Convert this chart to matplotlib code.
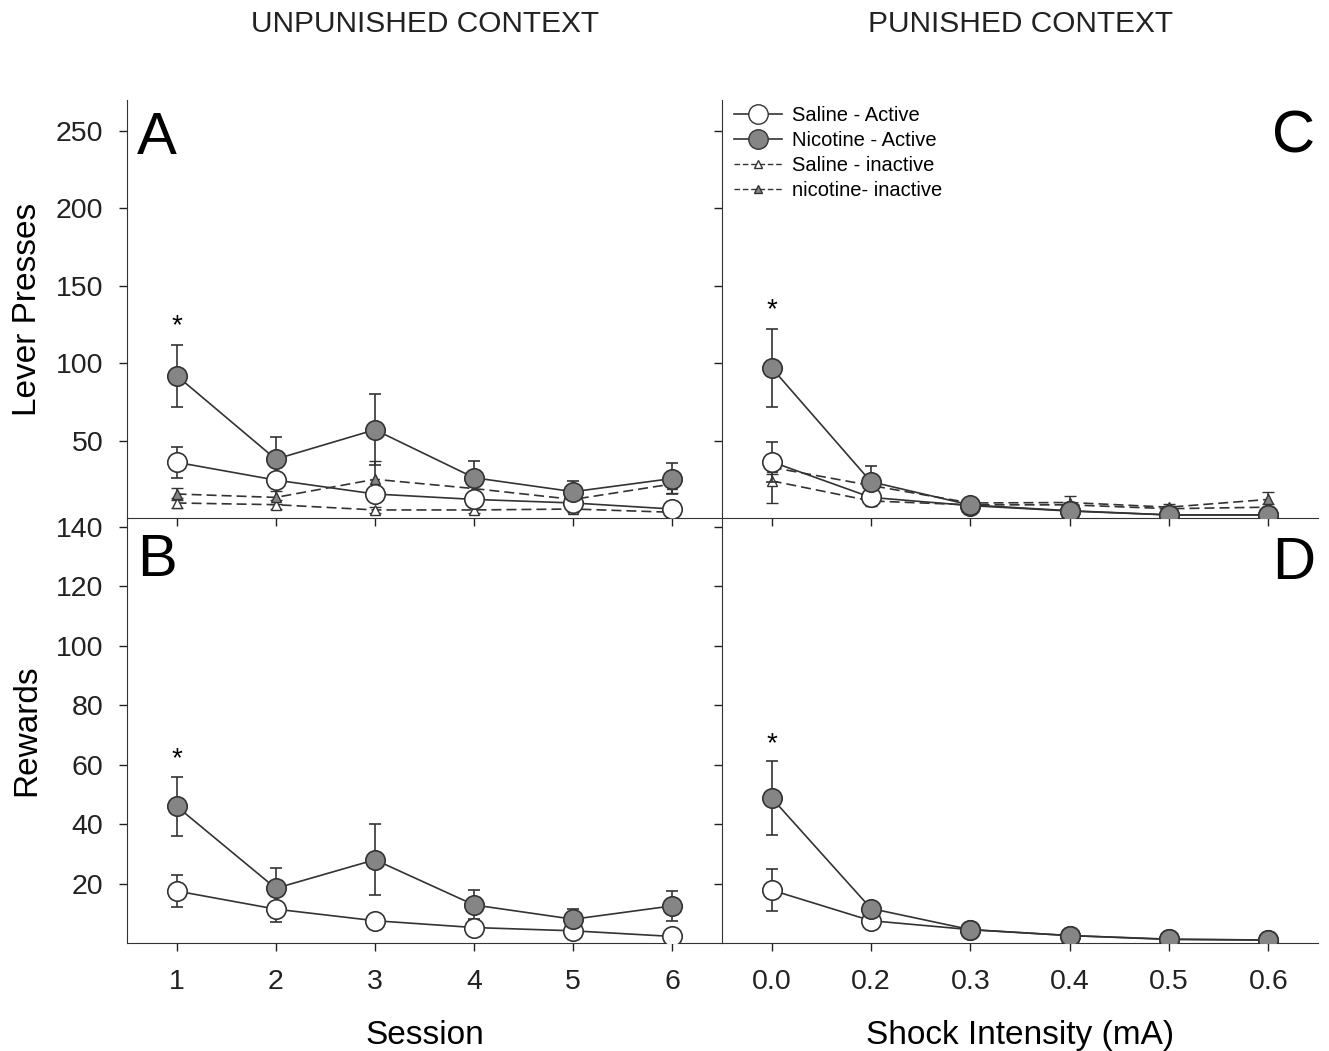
import matplotlib
matplotlib.use("Agg")
import matplotlib.pyplot as plt
import numpy as np

plt.rcParams['font.family'] = ['Liberation Sans', 'DejaVu Sans']

sessions = [1, 2, 3, 4, 5, 6]
shock_labels = ["0.0", "0.2", "0.3", "0.4", "0.5", "0.6"]

# Lever presses, unpunished context (A)
a_nic_act = [92, 38, 57, 26, 17, 25.5]
a_nic_act_err = [20, 14, 23, 11, 7, 10]
a_sal_act = [36, 24.5, 15.5, 12, 9.7, 5.8]
a_sal_act_err = [10, 4, 4, 4, 3, 2]
a_nic_inact = [15.5, 13.3, 25, 19, 12, 22]
a_nic_inact_err = [4, 4, 12, 4, 4, 6]
a_sal_inact = [9.7, 8.6, 5.2, 5.2, 5.8, 3.7]
a_sal_inact_err = [3, 3, 2, 2, 2, 2]

# Lever presses, punished context (C)
c_nic_act = [97, 23.4, 8.4, 4.7, 2, 2]
c_nic_act_err = [25, 10, 3, 3, 2, 2]
c_sal_act = [36.3, 13.3, 8, 4.5, 2, 2]
c_sal_act_err = [13, 5, 2, 2, 1, 1]
c_nic_inact = [32.7, 21, 9.7, 10, 7, 12]
c_nic_inact_err = [4, 4, 3, 4, 2, 5]
c_sal_inact = [24, 11, 8.5, 8.5, 6, 7]
c_sal_inact_err = [14, 3, 2, 2, 2, 2]

# Rewards, unpunished context (B)
b_nic_act = [46, 18.4, 28, 12.8, 8, 12.5]
b_nic_act_err = [10, 7, 12, 5, 3.5, 5]
b_sal_act = [17.5, 11.4, 7.5, 5.2, 4.1, 2.2]
b_sal_act_err = [5.3, 4.5, 2, 3, 2, 1]

# Rewards, punished context (D)
d_nic_act = [48.8, 11.6, 4.5, 2.5, 1.3, 1]
d_nic_act_err = [12.5, 2, 1, 1, 0.5, 0.5]
d_sal_act = [17.8, 7.5, 4.5, 2.5, 1.2, 1]
d_sal_act_err = [7, 2, 1, 1, 0.5, 0.5]

GREY = "#858585"
INK = "#333333"
W, H = 1329, 1051
fig = plt.figure(figsize=(W / 100, H / 100), dpi=100)


def box(x0, y0, x1, y1):
    return [x0 / W, 1 - y1 / H, (x1 - x0) / W, (y1 - y0) / H]


axA = fig.add_axes(box(127, 100, 722, 518))
axC = fig.add_axes(box(722, 100, 1318, 518))
axB = fig.add_axes(box(127, 518, 722, 943))
axD = fig.add_axes(box(722, 518, 1318, 943))

ebkw = dict(capsize=4, elinewidth=1.2, capthick=1.2, color=INK, lw=1.2)


def active(ax, x, y, err, face):
    ax.errorbar(x, y, yerr=err, marker="o", ms=14, mfc=face, mec=INK,
                mew=1.2, zorder=4, **ebkw)


def inactive(ax, x, y, err, face):
    ax.errorbar(x, y, yerr=err, marker="^", ms=7.5, mfc=face, mec=INK,
                mew=1.0, ls=(0, (6, 3)), zorder=3, **ebkw)


pos = np.arange(6)

inactive(axA, sessions, a_sal_inact, a_sal_inact_err, "white")
inactive(axA, sessions, a_nic_inact, a_nic_inact_err, GREY)
active(axA, sessions, a_sal_act, a_sal_act_err, "white")
active(axA, sessions, a_nic_act, a_nic_act_err, GREY)

inactive(axC, pos, c_sal_inact, c_sal_inact_err, "white")
inactive(axC, pos, c_nic_inact, c_nic_inact_err, GREY)
active(axC, pos, c_sal_act, c_sal_act_err, "white")
active(axC, pos, c_nic_act, c_nic_act_err, GREY)

active(axB, sessions, b_sal_act, b_sal_act_err, "white")
active(axB, sessions, b_nic_act, b_nic_act_err, GREY)

active(axD, pos, d_sal_act, d_sal_act_err, "white")
active(axD, pos, d_nic_act, d_nic_act_err, GREY)

# legend built from proxy handles
h1, = axC.plot([], [], "-o", color=INK, mfc="white", ms=14, lw=1.2)
h2, = axC.plot([], [], "-o", color=INK, mfc=GREY, ms=14, lw=1.2)
h3, = axC.plot([], [], marker="^", ls=(0, (4, 2)), color=INK, mfc="white", ms=6, lw=1.0)
h4, = axC.plot([], [], marker="^", ls=(0, (4, 2)), color=INK, mfc=GREY, ms=6, lw=1.0)
axC.legend([h1, h2, h3, h4],
           ["Saline - Active", "Nicotine - Active", "Saline - inactive", "nicotine- inactive"],
           loc="upper left", bbox_to_anchor=(0.0, 1.015), frameon=False, fontsize=14.5,
           handlelength=2.4, labelspacing=0.3, borderaxespad=0.2, handletextpad=0.5)

for ax in (axA, axB):
    ax.set_xlim(0.5, 6.5)
    ax.set_xticks(sessions)
for ax in (axC, axD):
    ax.set_xlim(-0.5, 5.5)
    ax.set_xticks(pos)
axB.set_xticklabels([str(s) for s in sessions])
axD.set_xticklabels(shock_labels)
axA.set_xticklabels([])
axC.set_xticklabels([])

for ax in (axA, axC):
    ax.set_ylim(0, 270)
    ax.set_yticks([50, 100, 150, 200, 250])
for ax in (axB, axD):
    ax.set_ylim(0, 143)
    ax.set_yticks([20, 40, 60, 80, 100, 120, 140])
axC.set_yticklabels([])
axD.set_yticklabels([])

for ax in (axA, axB, axC, axD):
    ax.spines["top"].set_visible(False)
    ax.spines["right"].set_visible(False)
    for s in ("left", "bottom"):
        ax.spines[s].set_color(INK)
    ax.patch.set_alpha(0)
    ax.tick_params(labelsize=20.5, length=6, width=1.0, colors="#222222")
    ax.tick_params(axis="y", pad=11)
    ax.tick_params(axis="x", pad=13)

axA.set_ylabel("Lever Presses", fontsize=24)
axB.set_ylabel("Rewards", fontsize=24)
axB.set_xlabel("Session", fontsize=24, labelpad=18)
axD.set_xlabel("Shock Intensity (mA)", fontsize=24, labelpad=18)
axA.yaxis.set_label_coords(-0.142, 0.5)
axB.yaxis.set_label_coords(-0.142, 0.5)

fig.text(425 / W, 1 - 24 / H, "UNPUNISHED CONTEXT", ha="center", va="center", fontsize=21.5, color="#222222")
fig.text(1020 / W, 1 - 24 / H, "PUNISHED CONTEXT", ha="center", va="center", fontsize=21.5, color="#222222")

axA.text(0.017, 0.909, "A", transform=axA.transAxes, fontsize=43, ha="left", va="center")
axB.text(0.017, 0.901, "B", transform=axB.transAxes, fontsize=43, ha="left", va="center")
axC.text(0.995, 0.912, "C", transform=axC.transAxes, fontsize=43, ha="right", va="center")
axD.text(0.995, 0.894, "D", transform=axD.transAxes, fontsize=43, ha="right", va="center")

axA.text(1, 124, "*", ha="center", va="center", fontsize=20)
axC.text(0, 134, "*", ha="center", va="center", fontsize=20)
axB.text(1, 62, "*", ha="center", va="center", fontsize=20)
axD.text(0, 67, "*", ha="center", va="center", fontsize=20)

fig.savefig("out.png", dpi=100)
